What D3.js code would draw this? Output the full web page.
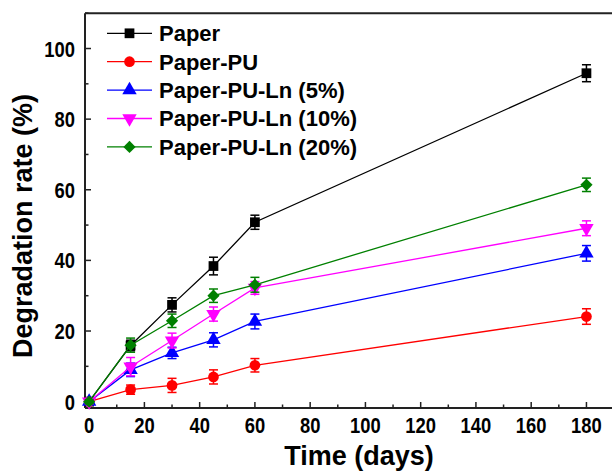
<!DOCTYPE html>
<html lang="en">
<head>
  <meta charset="utf8">
  <script src="https://cdn.jsdelivr.net/npm/d3@7"></script>
  <title>Degradation rate</title>
  <style>
    body { margin: 0; background: #fff; }
    text { font-family: "Liberation Sans", Arial, sans-serif; font-weight: bold; fill: #000; }
  </style>
</head>
<body>
<div id="chart"></div>
<script>
  // data
  var days = [0, 15, 30, 45, 60, 180];
  var seriesNames = ["Paper", "Paper-PU", "Paper-PU-Ln (5%)", "Paper-PU-Ln (10%)", "Paper-PU-Ln (20%)"];
  var seriesColors = ["#000000", "#ff0000", "#0000ff", "#ff00ff", "#008000"];
  var seriesSymbols = ["square", "circle", "triangleUp", "triangleDown", "diamond"];
  var paper     = [0, 15.9, 27.4, 38.4, 50.8, 93.0];
  var paperPU   = [0, 3.4, 4.6, 7.0, 10.3, 24.1];
  var ln5       = [0, 9.0, 13.8, 17.5, 22.7, 42.0];
  var ln10      = [0, 9.9, 17.3, 24.8, 32.2, 49.1];
  var ln20      = [0, 16.0, 22.9, 30.0, 33.1, 61.4];
  var paperErr  = [0.6, 1.5, 2.0, 2.5, 2.0, 2.4];
  var paperPUErr = [0.6, 1.3, 2.0, 2.0, 1.9, 2.2];
  var ln5Err    = [0.6, 1.9, 1.6, 2.0, 2.1, 2.2];
  var ln10Err   = [0.6, 2.6, 2.1, 2.0, 1.8, 2.1];
  var ln20Err   = [0.6, 2.0, 1.9, 1.9, 2.1, 1.9];
  var xTicks = [0, 20, 40, 60, 80, 100, 120, 140, 160, 180];
  var yTicks = [0, 20, 40, 60, 80, 100];

  var values = [paper, paperPU, ln5, ln10, ln20];
  var errors = [paperErr, paperPUErr, ln5Err, ln10Err, ln20Err];

  var width = 612, height = 473;
  var svg = d3.select("#chart").append("svg")
    .attr("width", width).attr("height", height);

  var x = d3.scaleLinear().domain([-1.5, 200]).range([85, 641.7]);
  var y = d3.scaleLinear().domain([-1.8, 110]).range([408, 13.2]);

  // frame: left, bottom, top (right side is cut off)
  var frame = svg.append("g").attr("stroke", "#222").attr("stroke-width", 2).attr("fill", "none");
  frame.append("line").attr("x1", x(-1.5)).attr("x2", x(-1.5)).attr("y1", y(110)).attr("y2", y(-1.8));
  frame.append("line").attr("x1", x(-1.5)).attr("x2", width).attr("y1", y(-1.8)).attr("y2", y(-1.8));
  frame.append("line").attr("x1", x(-1.5)).attr("x2", width).attr("y1", y(110)).attr("y2", y(110));

  // inward ticks, minor every 10
  var ticks = svg.append("g").attr("stroke", "#222").attr("stroke-width", 1.5);
  d3.range(0, 201, 10).forEach(function (t) {
    var len = t % 20 === 0 ? 6 : 3.5;
    ticks.append("line").attr("x1", x(t)).attr("x2", x(t))
      .attr("y1", y(-1.8)).attr("y2", y(-1.8) - len);
  });
  d3.range(0, 111, 10).forEach(function (t) {
    var len = t % 20 === 0 ? 6 : 3.5;
    ticks.append("line").attr("x1", x(-1.5)).attr("x2", x(-1.5) + len)
      .attr("y1", y(t)).attr("y2", y(t));
  });

  // tick labels are a little narrow and tall in the original
  svg.append("g").selectAll("text").data(xTicks).enter().append("text")
    .attr("transform", function (d) { return "translate(" + x(d) + ",433) scale(0.92,1.12)"; })
    .attr("text-anchor", "middle")
    .style("font-size", "20px")
    .text(function (d) { return d; });

  svg.append("g").selectAll("text").data(yTicks).enter().append("text")
    .attr("transform", function (d) { return "translate(75," + (y(d) + 8) + ") scale(0.92,1.12)"; })
    .attr("text-anchor", "end")
    .style("font-size", "20px")
    .text(function (d) { return d; });

  svg.append("text")
    .attr("x", 359).attr("y", 465)
    .attr("text-anchor", "middle")
    .style("font-size", "27px")
    .text("Time (days)");

  svg.append("text")
    .attr("transform", "translate(32,226) rotate(-90)")
    .attr("text-anchor", "middle")
    .style("font-size", "27px")
    .text("Degradation rate (%)");

  // diamond = square turned 45 degrees (d3's own diamond is too narrow)
  var symbolTypes = {
    square: [d3.symbolSquare, 95, ""],
    circle: [d3.symbolCircle, 90, ""],
    triangleUp: [d3.symbolTriangle, 90, ""],
    triangleDown: [d3.symbolTriangle, 90, " rotate(180)"],
    diamond: [d3.symbolSquare, 75, " rotate(45)"]
  };
  function marker(g, kind, color, cx, cy) {
    var t = symbolTypes[kind];
    g.append("path")
      .attr("d", d3.symbol().type(t[0]).size(t[1])())
      .attr("transform", "translate(" + cx + "," + cy + ")" + t[2])
      .attr("fill", color);
  }

  var line = d3.line()
    .x(function (d, i) { return x(days[i]); })
    .y(function (d) { return y(d); });

  var plot = svg.append("g");
  values.forEach(function (vals, s) {
    var g = plot.append("g");
    var color = seriesColors[s];
    g.append("path").attr("d", line(vals))
      .attr("fill", "none").attr("stroke", color).attr("stroke-width", 1.3);
    vals.forEach(function (v, i) {
      var e = errors[s][i];
      var cx = x(days[i]);
      var eb = g.append("g").attr("stroke", color).attr("stroke-width", 1.5);
      eb.append("line").attr("x1", cx).attr("x2", cx).attr("y1", y(v - e)).attr("y2", y(v + e));
      eb.append("line").attr("x1", cx - 4.5).attr("x2", cx + 4.5).attr("y1", y(v - e)).attr("y2", y(v - e));
      eb.append("line").attr("x1", cx - 4.5).attr("x2", cx + 4.5).attr("y1", y(v + e)).attr("y2", y(v + e));
      marker(g, seriesSymbols[s], color, cx, y(v));
    });
  });

  // legend
  var legend = svg.append("g");
  seriesNames.forEach(function (name, s) {
    var ly = 33.3 + s * 28.4;
    legend.append("line").attr("x1", 107).attr("x2", 152).attr("y1", ly).attr("y2", ly)
      .attr("stroke", seriesColors[s]).attr("stroke-width", 1.3);
    marker(legend, seriesSymbols[s], seriesColors[s], 129.5, ly);
    legend.append("text").attr("x", 159).attr("y", ly + 7.8)
      .style("font-size", "22px")
      .text(name);
  });
</script>
</body>
</html>
